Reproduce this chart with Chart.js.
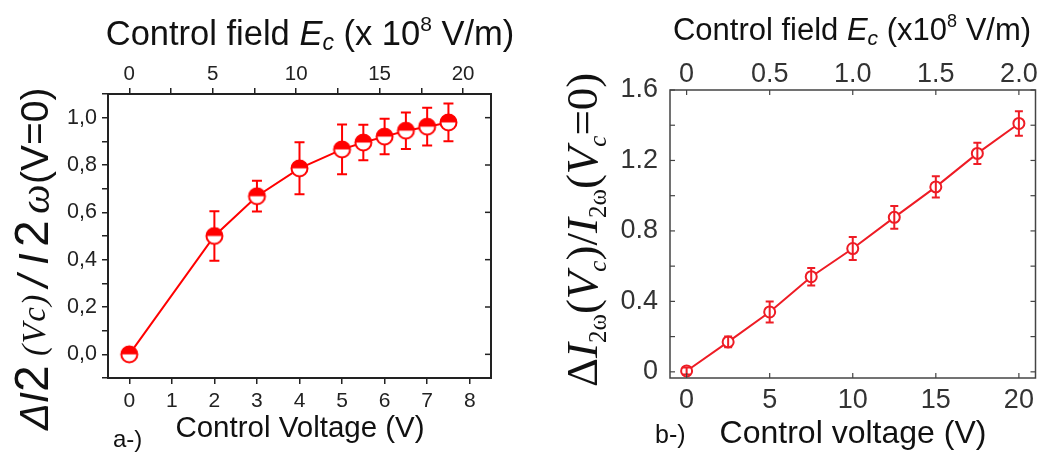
<!DOCTYPE html>
<html>
<head>
<meta charset="utf-8">
<script src="https://cdn.jsdelivr.net/npm/chart.js@4.4.0/dist/chart.umd.min.js"></script>
<style>
html, body { margin: 0; padding: 0; background: #fff; overflow: hidden; }
#wa { position: absolute; left: 0; top: 0; width: 530px; height: 453px; }
#wb { position: absolute; left: 530px; top: 0; width: 513px; height: 453px; }
</style>
</head>
<body>
<div id="wa"><canvas id="ca"></canvas></div>
<div id="wb"><canvas id="cb"></canvas></div>
<script>
// panel a) : relative change vs control voltage
var aVolt = [0, 2, 3, 4, 5, 5.5, 6, 6.5, 7, 7.5];
var aVal  = [0.0, 0.50, 0.668, 0.786, 0.866, 0.895, 0.92, 0.945, 0.962, 0.98];
var aErr  = [0, 0.105, 0.065, 0.11, 0.105, 0.075, 0.075, 0.077, 0.08, 0.08];
var aVoltTicks  = [0, 1, 2, 3, 4, 5, 6, 7, 8];
var aFieldTicks = [0, 2.5, 5, 7.5, 10, 12.5, 15, 17.5, 20];
var aYTicks = [-0.1, 0, 0.1, 0.2, 0.3, 0.4, 0.5, 0.6, 0.7, 0.8, 0.9, 1.0, 1.1];
var aYMajor = [0, 0.2, 0.4, 0.6, 0.8, 1.0];
var aFieldPerVolt = 2.55;

// panel b)
var bVolt = [0, 2.5, 5, 7.5, 10, 12.5, 15, 17.5, 20];
var bVal  = [0.005, 0.17, 0.34, 0.54, 0.70, 0.877, 1.05, 1.24, 1.41];
var bErr  = [0.02, 0.03, 0.06, 0.05, 0.065, 0.065, 0.06, 0.06, 0.07];
var bVoltTicks  = [0, 5, 10, 15, 20];
var bFieldTicks = [0, 0.5, 1.0, 1.5, 2.0];
var bYTicks = [0, 0.2, 0.4, 0.6, 0.8, 1.0, 1.2, 1.4, 1.6];
var bFieldPerVolt = 0.1;

var SANS = '"Liberation Sans", Arial, sans-serif';
var SERIF = '"Liberation Serif", "Times New Roman", serif';

function useTicks(list) {
    return function(s) { s.ticks = list.map(function(v) { return {value: v}; }); };
}
function fixW(w) { return function(s) { s.width = w; }; }
function fixH(h) { return function(s) { s.height = h; }; }

// half filled circle marker (top red, bottom white)
function halfMarker(r, col) {
    var c = document.createElement('canvas');
    c.width = c.height = 2 * r + 4;
    var g = c.getContext('2d');
    var m = r + 2;
    g.fillStyle = '#fff';
    g.beginPath(); g.arc(m, m, r, 0, 2 * Math.PI); g.fill();
    g.fillStyle = col;
    g.beginPath(); g.arc(m, m, r, Math.PI, 2 * Math.PI); g.closePath(); g.fill();
    g.strokeStyle = col; g.lineWidth = 2;
    g.beginPath(); g.arc(m, m, r - 0.5, 0, 2 * Math.PI); g.stroke();
    return c;
}

function drawRich(ctx, t) {
    ctx.save();
    ctx.translate(t.x, t.y);
    if (t.rot) ctx.rotate(t.rot);
    ctx.textBaseline = 'alphabetic';
    ctx.textAlign = 'left';
    ctx.fillStyle = '#111';
    var cx = 0;
    if (t.align === 'center') {
        var w = 0;
        t.parts.forEach(function(p) { ctx.font = p.f; w += ctx.measureText(p.t).width; });
        cx = -w / 2;
    }
    t.parts.forEach(function(p) {
        ctx.font = p.f;
        if (p.d !== undefined) cx = p.d;
        if (p.ls) {
            // spaced out letters
            p.t.split('').forEach(function(ch) {
                ctx.fillText(ch, cx, p.dy || 0);
                cx += ctx.measureText(ch).width + p.ls;
            });
        } else {
            ctx.fillText(p.t, cx, p.dy || 0);
            cx += ctx.measureText(p.t).width;
        }
    });
    ctx.restore();
}

function drawErr(chart, o) {
    var ctx = chart.ctx, xs = chart.scales.x, ys = chart.scales.y;
    ctx.save();
    ctx.strokeStyle = o.color;
    ctx.lineWidth = o.width;
    o.x.forEach(function(v, i) {
        if (!o.e[i]) return;
        var px = xs.getPixelForValue(v);
        var top = ys.getPixelForValue(o.y[i] + o.e[i]);
        var bot = ys.getPixelForValue(o.y[i] - o.e[i]);
        ctx.beginPath();
        ctx.moveTo(px, top); ctx.lineTo(px, bot);
        ctx.moveTo(px - o.cap, top); ctx.lineTo(px + o.cap, top);
        ctx.moveTo(px - o.cap, bot); ctx.lineTo(px + o.cap, bot);
        ctx.stroke();
    });
    ctx.restore();
}

// frame, inward ticks, error bars and rich labels for one panel
function panelPlugin(o) {
    return {
        id: 'panel',
        beforeDatasetsDraw: function(chart) {
            if (o.err && !o.err.after) drawErr(chart, o.err);
        },
        afterDatasetsDraw: function(chart) {
            if (o.err && o.err.after) drawErr(chart, o.err);
        },
        afterDraw: function(chart) {
            var ctx = chart.ctx, a = chart.chartArea;
            ctx.save();
            ctx.strokeStyle = o.frame.color;
            ctx.lineWidth = o.frame.width;
            ctx.strokeRect(a.left, a.top, a.right - a.left, a.bottom - a.top);
            ctx.lineWidth = o.frame.tickWidth;
            o.inward.forEach(function(it) {
                var s = chart.scales[it.scale];
                var vals = it.values || s.ticks.map(function(t) { return t.value; });
                vals.forEach(function(v) {
                    var p = s.getPixelForValue(v);
                    it.sides.forEach(function(side) {
                        ctx.beginPath();
                        if (side === 'left') { ctx.moveTo(a.left, p); ctx.lineTo(a.left + it.len, p); }
                        if (side === 'right') { ctx.moveTo(a.right, p); ctx.lineTo(a.right - it.len, p); }
                        if (side === 'bottom') { ctx.moveTo(p, a.bottom); ctx.lineTo(p, a.bottom - it.len); }
                        if (side === 'top') { ctx.moveTo(p, a.top); ctx.lineTo(p, a.top + it.len); }
                        ctx.stroke();
                    });
                });
            });
            ctx.restore();
            o.texts.forEach(function(t) { drawRich(ctx, t); });
        }
    };
}

function axisFont(size) { return {family: SANS, size: size}; }

// ---------- panel a ----------
var aGrid = {drawOnChartArea: false, color: '#222', tickLength: 6, lineWidth: 1.5};
new Chart(document.getElementById('ca'), {
    type: 'line',
    data: {
        datasets: [{
            data: aVolt.map(function(v, i) { return {x: v, y: aVal[i]}; }),
            borderColor: '#ff0000',
            borderWidth: 2,
            pointStyle: halfMarker(8.5, '#ff0000'),
            pointRadius: 8,
            tension: 0,
            fill: false
        }]
    },
    options: {
        responsive: true,
        maintainAspectRatio: false,
        animation: false,
        events: [],
        layout: {padding: {left: 0, right: 39, top: 0, bottom: 0}},
        plugins: {legend: {display: false}, tooltip: {enabled: false}},
        scales: {
            x: {
                type: 'linear', position: 'bottom', min: -0.5, max: 8.5,
                afterBuildTicks: useTicks(aVoltTicks), afterFit: fixH(75),
                grid: aGrid, border: {display: false},
                ticks: {font: axisFont(21), color: '#222', padding: 5, autoSkip: false, maxRotation: 0,
                    callback: function(v) { return String(v); }}
            },
            x2: {
                type: 'linear', position: 'top', min: -0.5 * aFieldPerVolt, max: 8.5 * aFieldPerVolt,
                afterBuildTicks: useTicks(aFieldTicks), afterFit: fixH(94),
                grid: aGrid, border: {display: false},
                ticks: {font: axisFont(20.5), color: '#222', padding: 1, autoSkip: false, maxRotation: 0,
                    callback: function(v) { return v % 5 === 0 ? String(v) : ''; }}
            },
            y: {
                type: 'linear', position: 'left', min: -0.1, max: 1.1,
                afterBuildTicks: useTicks(aYTicks), afterFit: fixW(108),
                grid: aGrid, border: {display: false},
                ticks: {font: axisFont(21.5), color: '#222', padding: 5, autoSkip: false,
                    callback: function(v) {
                        var k = Math.round(v * 10);
                        return (k >= 0 && k <= 10 && k % 2 === 0) ? v.toFixed(1).replace('.', ',') : '';
                    }}
            }
        }
    },
    plugins: [panelPlugin({
        frame: {color: '#222', width: 2, tickWidth: 1.5},
        inward: [{scale: 'y', sides: ['right'], len: 6, values: aYMajor}],
        err: {x: aVolt, y: aVal, e: aErr, cap: 5, width: 2, color: '#ff0000', after: false},
        texts: [
            {x: 310, y: 45, align: 'center', parts: [
                {t: 'Control field ', f: '34.5px ' + SANS},
                {t: 'E', f: 'italic 34.5px ' + SANS},
                {t: 'c', f: 'italic 23px ' + SANS, dy: 5},
                {t: ' (x 10', f: '34.5px ' + SANS},
                {t: '8', f: '21px ' + SANS, dy: -14},
                {t: ' V/m)', f: '34.5px ' + SANS}
            ]},
            {x: 300, y: 437, align: 'center', parts: [{t: 'Control Voltage (V)', f: '29.5px ' + SANS}]},
            {x: 113, y: 447, parts: [{t: 'a-)', f: '24px ' + SANS}]},
            {x: 48, y: 430, rot: -Math.PI / 2, parts: [
                {t: '\u0394I', f: 'italic 40px ' + SANS, d: 0},
                {t: '2', f: '48px ' + SANS, d: 38},
                {t: '(Vc)', f: 'italic 33px ' + SERIF, d: 74, dy: -3, ls: 1.5},
                {t: '/', f: 'italic 42px ' + SANS, d: 143},
                {t: 'I', f: 'italic 42px ' + SANS, d: 165},
                {t: '2', f: '48px ' + SANS, d: 183},
                {t: '\u03c9', f: 'italic 42px ' + SERIF, d: 216, dy: 1},
                {t: '(V=0)', f: '39px ' + SANS, d: 246}
            ]}
        ]
    })]
});

// ---------- panel b ----------
var bGrid = {drawOnChartArea: false, drawTicks: false};
new Chart(document.getElementById('cb'), {
    type: 'line',
    data: {
        datasets: [{
            data: bVolt.map(function(v, i) { return {x: v, y: bVal[i]}; }),
            borderColor: '#ee1c25',
            borderWidth: 2,
            pointStyle: 'circle',
            pointRadius: 5.5,
            pointBorderWidth: 2,
            pointBorderColor: '#ee1c25',
            pointBackgroundColor: '#fff',
            tension: 0,
            fill: false
        }]
    },
    options: {
        responsive: true,
        maintainAspectRatio: false,
        animation: false,
        events: [],
        layout: {padding: {left: 0, right: 7, top: 0, bottom: 0}},
        plugins: {legend: {display: false}, tooltip: {enabled: false}},
        scales: {
            x: {
                type: 'linear', position: 'bottom', min: -1, max: 21,
                afterBuildTicks: useTicks(bVoltTicks), afterFit: fixH(75),
                grid: bGrid, border: {display: false},
                ticks: {font: axisFont(27), color: '#333', padding: 6, autoSkip: false, maxRotation: 0}
            },
            x2: {
                type: 'linear', position: 'top', min: -1 * bFieldPerVolt, max: 21 * bFieldPerVolt,
                afterBuildTicks: useTicks(bFieldTicks), afterFit: fixH(90),
                grid: bGrid, border: {display: false},
                ticks: {font: axisFont(27), color: '#333', padding: -1, autoSkip: false, maxRotation: 0,
                    callback: function(v) { return v === 0 ? '0' : v.toFixed(1); }}
            },
            y: {
                type: 'linear', position: 'left', min: -0.035, max: 1.6,
                afterBuildTicks: useTicks(bYTicks), afterFit: fixW(140),
                grid: bGrid, border: {display: false},
                ticks: {font: axisFont(27), color: '#333', padding: 12, autoSkip: false,
                    callback: function(v) {
                        var k = Math.round(v * 10);
                        if (k % 4 !== 0) return '';
                        return k === 0 ? '0' : v.toFixed(1);
                    }}
            }
        }
    },
    plugins: [panelPlugin({
        frame: {color: '#444', width: 1.5, tickWidth: 1.2},
        inward: [
            {scale: 'y', sides: ['left', 'right'], len: 5},
            {scale: 'x', sides: ['bottom'], len: 5},
            {scale: 'x2', sides: ['top'], len: 5}
        ],
        err: {x: bVolt, y: bVal, e: bErr, cap: 4, width: 2, color: '#ee1c25', after: true},
        texts: [
            {x: 322, y: 40, align: 'center', parts: [
                {t: 'Control field ', f: '31px ' + SANS},
                {t: 'E', f: 'italic 31px ' + SANS},
                {t: 'c', f: 'italic 21px ' + SANS, dy: 5},
                {t: ' (x10', f: '31px ' + SANS},
                {t: '8', f: '18px ' + SANS, dy: -13},
                {t: ' V/m)', f: '31px ' + SANS}
            ]},
            {x: 323, y: 443, align: 'center', parts: [{t: 'Control voltage (V)', f: '32px ' + SANS}]},
            {x: 125, y: 443, parts: [{t: 'b-)', f: '25px ' + SANS}]},
            {x: 67, y: 387, rot: -Math.PI / 2, parts: [
                {t: '\u0394', f: '45px ' + SERIF},
                {t: 'I', f: 'italic 45px ' + SERIF},
                {t: '2\u03c9', f: '25px ' + SERIF, dy: 9},
                {t: '(', f: '45px ' + SERIF},
                {t: 'V', f: 'italic 45px ' + SERIF},
                {t: 'c', f: 'italic 25px ' + SERIF, dy: 9},
                {t: ')/', f: '45px ' + SERIF},
                {t: 'I', f: 'italic 45px ' + SERIF},
                {t: '2\u03c9', f: '25px ' + SERIF, dy: 9},
                {t: '(', f: '45px ' + SERIF},
                {t: 'V', f: 'italic 45px ' + SERIF},
                {t: 'c', f: 'italic 25px ' + SERIF, dy: 9},
                {t: '=0)', f: '45px ' + SERIF}
            ]}
        ]
    })]
});
</script>
</body>
</html>
